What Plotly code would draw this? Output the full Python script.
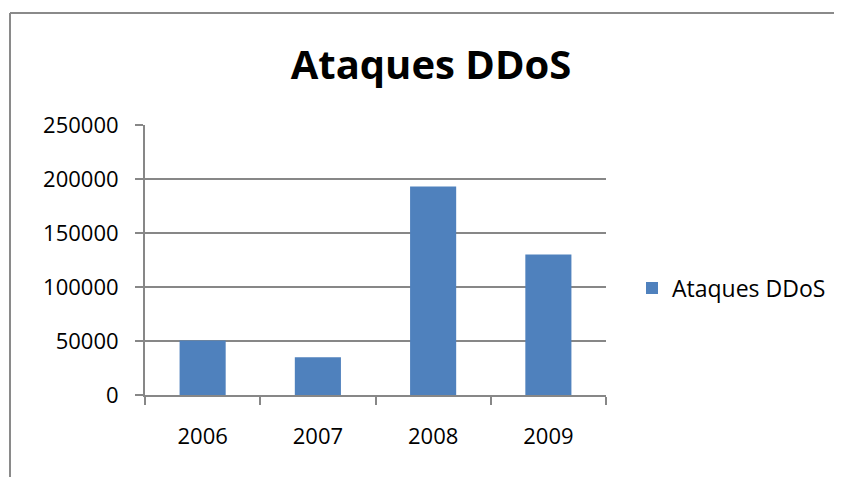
import plotly.graph_objects as go

years = ["2006", "2007", "2008", "2009"]
attacks = [50500, 35000, 193000, 130000]
series_name = "Ataques DDoS"
chart_title = "Ataques DDoS"
y_ticks = [0, 50000, 100000, 150000, 200000, 250000]

# the page body adds an 8px offset; compensate so the plot lands where the reference has it
OFF = 8
W, H = 842, 477
L, R, T, B = 145 - OFF, 236 + OFF, 125 - OFF, 82 + OFF
pw = W - L - R
ph = H - T - B

GRID = "#878787"
BAR = "#4F81BD"
FONT = "Open Sans"

fig = go.Figure()
fig.add_trace(go.Bar(x=years, y=attacks, name=series_name, marker=dict(color=BAR, line=dict(width=0)),
                     showlegend=True))

# chart frame lines (left and top), expressed in paper units
fx = (10 - OFF - L) / pw
fy = (H - B - (13 - OFF)) / ph
fig.add_shape(type="line", xref="paper", yref="paper", x0=fx, x1=(W - L) / pw + 0.05, y0=fy, y1=fy,
              line=dict(color="#8a8a8a", width=2))
fig.add_shape(type="line", xref="paper", yref="paper", x0=fx, x1=fx, y0=fy, y1=-B / ph - 0.05,
              line=dict(color="#8a8a8a", width=2))

fig.update_layout(
    width=W, height=H,
    margin=dict(l=L, r=R, t=T, b=B, autoexpand=False),
    paper_bgcolor="white", plot_bgcolor="white",
    bargap=0.6,
    title=dict(text=chart_title, x=(431 - OFF) / W, xanchor="center", y=1 - (65 - OFF) / H, yanchor="middle",
               font=dict(family=FONT, size=40, color="black", weight="bold")),
    font=dict(family=FONT, color="black"),
    legend=dict(x=(624 - L) / pw, xanchor="left", y=(H - B - (288 - OFF)) / ph, yanchor="middle",
                font=dict(family=FONT, size=23, color="black"), itemwidth=30,
                bgcolor="rgba(0,0,0,0)"),
    xaxis=dict(type="category", showgrid=False, showline=True, linecolor=GRID, linewidth=2,
               ticks="outside", tickson="boundaries", ticklen=8, tickcolor=GRID, tickwidth=2,
               tickfont=dict(family=FONT, size=22, color="black"), ticklabelstandoff=21),
    yaxis=dict(range=[0, 250000], tickvals=y_ticks, ticktext=[str(v) for v in y_ticks],
               showgrid=True, gridcolor=GRID, gridwidth=2, showline=True, linecolor=GRID, linewidth=2,
               ticks="outside", ticklen=8, tickcolor=GRID, tickwidth=2, zeroline=False,
               tickfont=dict(family=FONT, size=22, color="black"), ticklabelstandoff=12),
)

fig.write_html("out.html")
